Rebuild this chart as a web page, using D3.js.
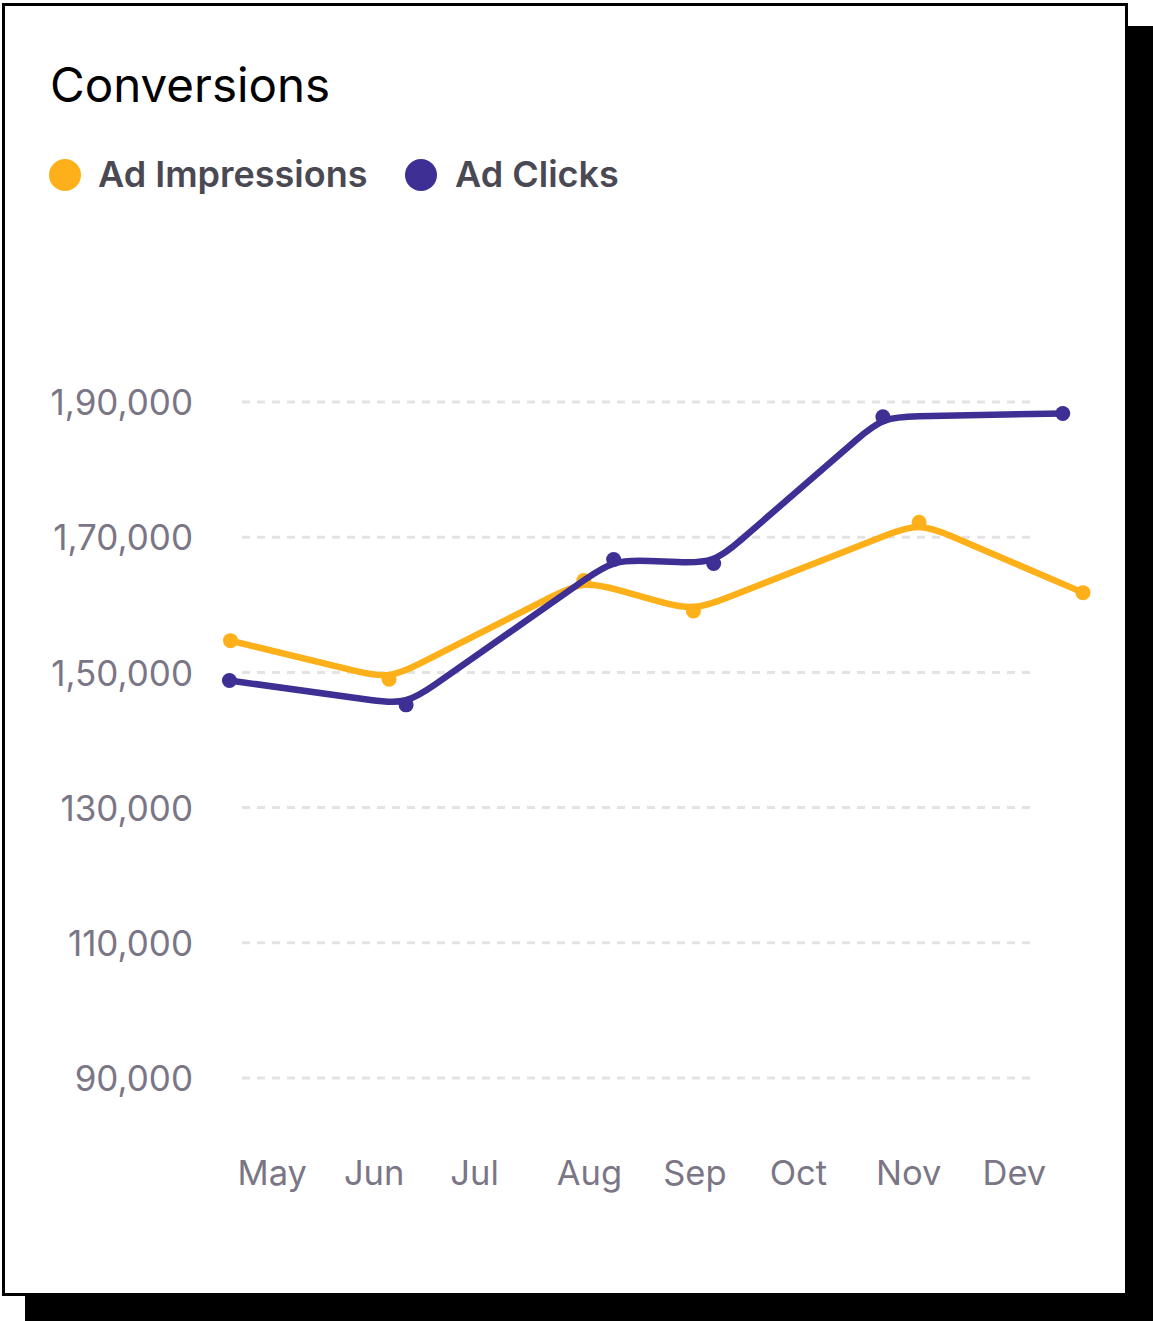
<!DOCTYPE html>
<html>
<head>
<meta charset="utf-8">
<script src="https://cdn.jsdelivr.net/npm/d3@7"></script>
<style>
  html, body { margin: 0; padding: 0; background: #ffffff; }
  svg { display: block; }
  text { font-family: Inter, "Noto Sans", sans-serif; }
</style>
</head>
<body>
<svg id="chart" width="1153" height="1321"></svg>
<script>
// ---- data ----
const title = "Conversions";
const seriesNames = ["Ad Impressions", "Ad Clicks"];
const seriesColors = ["#FDB01A", "#3D2F94"];
const monthLabels = ["May", "Jun", "Jul", "Aug", "Sep", "Oct", "Nov", "Dev"];
const yTickValues = [190000, 170000, 150000, 130000, 110000, 90000];
const yTickLabels = ["1,90,000", "1,70,000", "1,50,000", "130,000", "110,000", "90,000"];
// x positions are in month-index units (0 = May label)
const impressionsX = [-0.08, 1.41, 3.24, 4.27, 6.39, 7.93];
const impressionsY = [154700, 149000, 163600, 159100, 172200, 161800];
const clicksX = [-0.09, 1.57, 3.52, 4.46, 6.05, 7.74];
const clicksY = [148800, 145200, 166700, 166100, 187800, 188300];

// ---- custom curve: straight segments with rounded corners ----
function roundedCurve(radius, pull) {
  return function(context) {
    let pts = [];
    return {
      areaStart() {}, areaEnd() {},
      lineStart() { pts = []; },
      point(x, y) { pts.push([x, y]); },
      lineEnd() {
        if (!pts.length) return;
        context.moveTo(pts[0][0], pts[0][1]);
        for (let i = 1; i < pts.length; i++) {
          const p = pts[i];
          if (i === pts.length - 1) { context.lineTo(p[0], p[1]); break; }
          const a = pts[i - 1], b = pts[i + 1];
          const d1 = Math.hypot(p[0] - a[0], p[1] - a[1]);
          const d2 = Math.hypot(b[0] - p[0], b[1] - p[1]);
          const r = Math.min(radius, d1 / 2, d2 / 2);
          const s = [p[0] - (p[0] - a[0]) * r / d1, p[1] - (p[1] - a[1]) * r / d1];
          const e = [p[0] + (b[0] - p[0]) * r / d2, p[1] + (b[1] - p[1]) * r / d2];
          context.lineTo(s[0], s[1]);
          context.bezierCurveTo(
            s[0] + (p[0] - s[0]) * pull, s[1] + (p[1] - s[1]) * pull,
            e[0] + (p[0] - e[0]) * pull, e[1] + (p[1] - e[1]) * pull,
            e[0], e[1]);
        }
      }
    };
  };
}

// ---- layout ----
const svg = d3.select("#chart");
const W = 1153, H = 1321;

// shadow + card
svg.append("rect").attr("x", 25).attr("y", 26).attr("width", W - 25).attr("height", H - 26).attr("fill", "#000");
svg.append("rect").attr("x", 3.5).attr("y", 4.5).attr("width", 1123).attr("height", 1290)
  .attr("fill", "#fff").attr("stroke", "#000").attr("stroke-width", 3);

// title
svg.append("text").attr("x", 50).attr("y", 102).attr("font-size", 47.5).attr("fill", "#000")
  .text(title);

// legend
const legendPos = [{cx: 65, tx: 98}, {cx: 421, tx: 455}];
seriesNames.forEach((n, i) => {
  svg.append("circle").attr("cx", legendPos[i].cx).attr("cy", 175).attr("r", 16).attr("fill", seriesColors[i]);
  svg.append("text").attr("x", legendPos[i].tx).attr("y", 187).attr("font-size", 36)
    .attr("font-weight", 600).attr("fill", "#4a4953").text(n);
});

// scales
const x = d3.scaleLinear().domain([0, 7]).range([239, 984]);
const y = d3.scaleLinear().domain([90000, 190000]).range([1078, 402]);

// grid
const grid = svg.append("g");
grid.selectAll("line").data(yTickValues).join("line")
  .attr("x1", 242).attr("x2", 1032)
  .attr("y1", d => y(d)).attr("y2", d => y(d))
  .attr("stroke", "#e3e3e3").attr("stroke-width", 3).attr("stroke-dasharray", "8,7");

// y axis labels via d3 axis
const yAxis = d3.axisLeft(y).tickValues(yTickValues)
  .tickFormat((d, i) => yTickLabels[i]).tickSize(0).tickPadding(0);
const yg = svg.append("g").attr("transform", "translate(193,0)").call(yAxis);
yg.select(".domain").remove();
yg.selectAll("text").attr("font-family", "Inter, sans-serif").attr("font-size", 35)
  .attr("fill", "#7a7686").attr("dy", "0.36em");

// x axis labels
const xAxis = d3.axisBottom(x).tickValues(d3.range(monthLabels.length))
  .tickFormat((d, i) => monthLabels[i]).tickSize(0).tickPadding(0);
const xg = svg.append("g").attr("transform", "translate(-2,1185)").call(xAxis);
xg.select(".domain").remove();
xg.selectAll("text").attr("font-family", "Inter, sans-serif").attr("font-size", 34.5)
  .attr("fill", "#7a7686").attr("text-anchor", "start").attr("dy", 0).attr("y", 0);

// lines
const series = [
  {xs: impressionsX, ys: impressionsY, color: seriesColors[0]},
  {xs: clicksX, ys: clicksY, color: seriesColors[1]}
];
const line = d3.line().x(d => x(d[0])).y(d => y(d[1])).curve(roundedCurve(36, 0.88));
series.forEach(s => {
  const pts = s.xs.map((v, i) => [v, s.ys[i]]);
  svg.append("path").datum(pts).attr("d", line).attr("fill", "none")
    .attr("stroke", s.color).attr("stroke-width", 6.5).attr("stroke-linejoin", "round");
  svg.append("g").selectAll("circle").data(pts).join("circle")
    .attr("cx", d => x(d[0])).attr("cy", d => y(d[1])).attr("r", 7.5).attr("fill", s.color);
});
</script>
</body>
</html>
